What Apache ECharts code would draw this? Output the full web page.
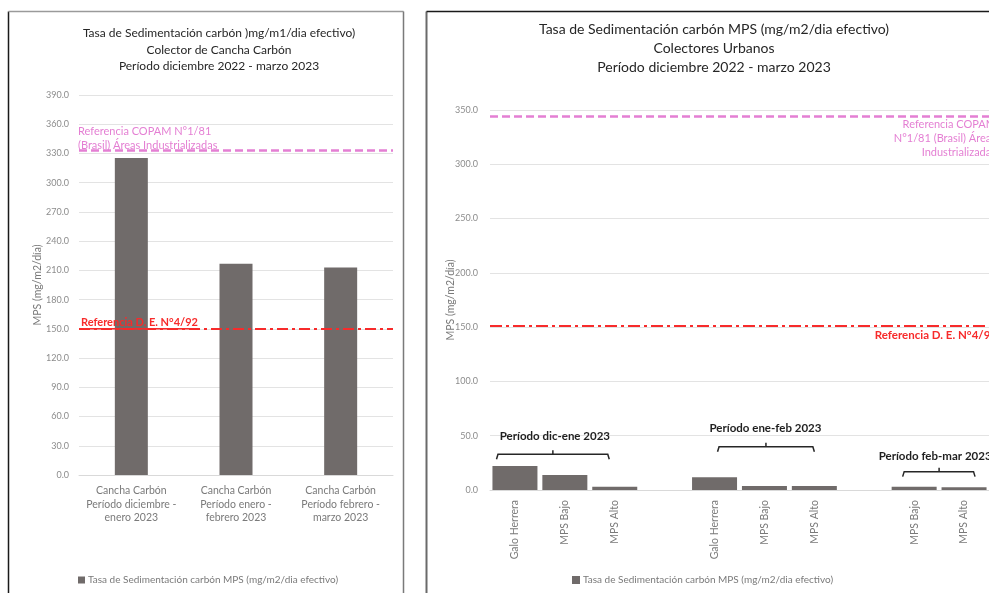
<!DOCTYPE html>
<html>
<head>
<meta charset="utf-8">
<script src="https://cdn.jsdelivr.net/npm/echarts@6/dist/echarts.min.js"></script>
<style>
  html, body { margin: 0; padding: 0; background: #fff; overflow: hidden; }
  #chart { width: 989px; height: 593px; }
</style>
</head>
<body>
<div id="chart"></div>
<script>
// ---- Cancha Carbón collector ----
const carbonCategories = [
  'Cancha Carbón\nPeríodo diciembre -\nenero 2023',
  'Cancha Carbón\nPeríodo enero -\nfebrero 2023',
  'Cancha Carbón\nPeríodo febrero -\nmarzo 2023'
];
const carbonValues = [325.3, 216.8, 212.9];
const carbonAxisMin = 0, carbonAxisMax = 390, carbonAxisStep = 30;

// ---- Urban collectors (blank slots separate the periods) ----
const urbanCategories = [
  'Galo Herrera', 'MPS Bajo', 'MPS Alto', '',
  'Galo Herrera', 'MPS Bajo', 'MPS Alto', '',
  'MPS Bajo', 'MPS Alto'
];
const urbanValues = [22.1, 13.8, 3.0, null, 11.7, 3.7, 3.7, null, 3.0, 2.5];
const urbanAxisMin = 0, urbanAxisMax = 350, urbanAxisStep = 50;

// ---- Reference limits ----
const copamLimitCarbon = 333.5;
const copamLimitUrban = 344;
const deLimitCarbon = 150;
const deLimitUrban = 151.5;

// ---- Period groups on the urban chart ----
const periodLabels = ['Período dic-ene 2023', 'Período ene-feb 2023', 'Período feb-mar 2023'];

const seriesName = 'Tasa de Sedimentación carbón MPS (mg/m2/dia efectivo)';

// Bracket placement (fractional category index, value on y axis)
const bracketLayout = [
  { from: -0.37, to: 1.89, mid: 0.76, at: 32.9, labelX: 0.8,  labelAt: 49.7 },
  { from: 4.06,  to: 6.0,  mid: 5.03, at: 39.9, labelX: 5.02, labelAt: 57.1 },
  { from: 7.77,  to: 9.22, mid: 8.5,  at: 16.9, labelX: 8.42, labelAt: 30.7 }
];

const FONT = 'Lato, "Liberation Sans", sans-serif';
const BAR = '#706b6a';
const PINK = '#e47fd3';
const RED = '#f72b2b';
const TICK = '#8c8c8c';
const AXISNAME = '#7a7a7a';

const chart = echarts.init(document.getElementById('chart'), null, { renderer: 'canvas' });

const refLines = (copam, de, dePattern) => ({
  symbol: ['none', 'none'],
  silent: true,
  label: { show: false },
  data: [
    { yAxis: copam, lineStyle: { color: PINK, width: 2.5, type: [8, 4] } },
    { yAxis: de, lineStyle: { color: RED, width: 2, type: dePattern } }
  ]
});

chart.setOption({
  animation: false,
  textStyle: { fontFamily: FONT },
  title: [
    {
      text: 'Tasa de Sedimentación carbón )mg/m1/dia efectivo)\nColector de Cancha Carbón\nPeríodo diciembre 2022 - marzo 2023',
      left: 219, top: 25, textAlign: 'center', padding: 0,
      textStyle: { fontFamily: FONT, fontSize: 12, fontWeight: 'normal', color: '#262626', lineHeight: 16.5 }
    },
    {
      text: 'Tasa de Sedimentación carbón MPS (mg/m2/dia efectivo)\nColectores Urbanos\nPeríodo diciembre 2022 - marzo 2023',
      left: 714, top: 20, textAlign: 'center', padding: 0,
      textStyle: { fontFamily: FONT, fontSize: 14, fontWeight: 'normal', color: '#262626', lineHeight: 19 }
    }
  ],
  legend: [
    {
      data: [seriesName], left: 78, top: 575, padding: 0, icon: 'rect', itemWidth: 7, itemHeight: 7, itemGap: 4,
      textStyle: { fontFamily: FONT, fontSize: 10, color: AXISNAME, padding: [0, 0, 0, -2] }
    },
    {
      data: [seriesName], left: 572, top: 575, padding: 0, icon: 'rect', itemWidth: 8, itemHeight: 8, itemGap: 4,
      textStyle: { fontFamily: FONT, fontSize: 10, color: AXISNAME, padding: [0, 0, 0, -2] }
    }
  ],
  grid: [
    { left: 79, top: 95, width: 314, height: 380 },
    { left: 490, top: 110, width: 500, height: 380 }
  ],
  xAxis: [
    {
      gridIndex: 0, type: 'category', data: carbonCategories,
      axisLine: { lineStyle: { color: '#d9d9d9' } }, axisTick: { show: false },
      axisLabel: { color: AXISNAME, fontSize: 10.5, lineHeight: 13.5, margin: 9, interval: 0 }
    },
    {
      gridIndex: 1, type: 'category', data: urbanCategories,
      axisLine: { lineStyle: { color: '#d9d9d9' } }, axisTick: { show: false },
      axisLabel: { color: AXISNAME, fontSize: 10.5, rotate: 90, margin: 10, interval: 0 }
    }
  ],
  yAxis: [
    {
      gridIndex: 0, type: 'value', min: carbonAxisMin, max: carbonAxisMax, interval: carbonAxisStep,
      name: 'MPS (mg/m2/día)', nameLocation: 'middle', nameGap: 36, nameMoveOverlap: false,
      nameTextStyle: { color: AXISNAME, fontSize: 10.5, fontFamily: FONT },
      axisLine: { show: false }, axisTick: { show: false },
      axisLabel: { color: TICK, fontSize: 9, margin: 10, formatter: v => v.toFixed(1) },
      splitLine: { lineStyle: { color: '#e3e3e3' } }
    },
    {
      gridIndex: 1, type: 'value', min: urbanAxisMin, max: urbanAxisMax, interval: urbanAxisStep,
      name: 'MPS (mg/m2/día)', nameLocation: 'middle', nameGap: 34, nameMoveOverlap: false,
      nameTextStyle: { color: AXISNAME, fontSize: 10.5, fontFamily: FONT },
      axisLine: { show: false }, axisTick: { show: false },
      axisLabel: { color: TICK, fontSize: 9, margin: 12, formatter: v => v.toFixed(1) },
      splitLine: { lineStyle: { color: '#e3e3e3' } }
    }
  ],
  series: [
    {
      name: seriesName, type: 'bar', xAxisIndex: 0, yAxisIndex: 0,
      data: carbonValues, barWidth: 33, itemStyle: { color: BAR },
      markLine: refLines(copamLimitCarbon, deLimitCarbon, [11, 4, 3, 4])
    },
    {
      name: seriesName, type: 'bar', xAxisIndex: 1, yAxisIndex: 1,
      data: urbanValues, barWidth: 45, itemStyle: { color: BAR },
      markLine: refLines(copamLimitUrban, deLimitUrban, [12, 4, 3, 4])
    }
  ]
});

// ---- Annotations placed through the axes ----
function textWidth(font, text) {
  const ctx = document.createElement('canvas').getContext('2d');
  ctx.font = font;
  return ctx.measureText(text).width;
}

const yC = v => chart.convertToPixel({ yAxisIndex: 0 }, v);
const yU = v => chart.convertToPixel({ yAxisIndex: 1 }, v);
const x0 = chart.convertToPixel({ xAxisIndex: 1 }, 0);
const x1 = chart.convertToPixel({ xAxisIndex: 1 }, 1);
const xU = t => x0 + (x1 - x0) * t;
const leftEdge = chart.convertToPixel({ xAxisIndex: 0 }, 0) - (chart.convertToPixel({ xAxisIndex: 0 }, 1) - chart.convertToPixel({ xAxisIndex: 0 }, 0)) / 2;

const graphics = [];

// panel frames
graphics.push(
  { type: 'line', shape: { x1: 8.5, y1: 11.5, x2: 8.5, y2: 600 }, style: { stroke: '#1a1a1a', lineWidth: 1.5 } },
  { type: 'line', shape: { x1: 8.5, y1: 11.5, x2: 403.5, y2: 11.5 }, style: { stroke: '#9a9a9a', lineWidth: 1.5 } },
  { type: 'line', shape: { x1: 403.5, y1: 11.5, x2: 403.5, y2: 600 }, style: { stroke: '#7a7a7a', lineWidth: 1.5 } },
  { type: 'line', shape: { x1: 426.5, y1: 11.5, x2: 426.5, y2: 600 }, style: { stroke: '#6a6a6a', lineWidth: 2 } },
  { type: 'line', shape: { x1: 426.5, y1: 11.5, x2: 1000, y2: 11.5 }, style: { stroke: '#1a1a1a', lineWidth: 1.5 } }
);

// reference labels, Cancha Carbón chart
const deFontL = 'bold 11px ' + FONT;
const deTextL = 'Referencia D. E. N°4/92';
graphics.push(
  {
    type: 'text', x: leftEdge - 1, y: yC(copamLimitCarbon) + 2,
    style: { text: 'Referencia COPAM N°1/81\n(Brasil) Áreas Industrializadas', font: '11px ' + FONT, fill: PINK, lineHeight: 14, textAlign: 'left', textVerticalAlign: 'bottom' }
  },
  {
    type: 'text', x: leftEdge + 2, y: yC(deLimitCarbon) + 1,
    style: { text: deTextL, font: deFontL, fill: RED, lineHeight: 14, textAlign: 'left', textVerticalAlign: 'bottom' }
  },
  {
    type: 'line',
    shape: { x1: leftEdge + 2, y1: yC(deLimitCarbon), x2: leftEdge + 2 + textWidth(deFontL, deTextL), y2: yC(deLimitCarbon) },
    style: { stroke: RED, lineWidth: 1.5 }
  }
);

// reference labels, urban chart (right-aligned, running past the edge)
graphics.push(
  {
    type: 'text', x: 996, y: yU(copamLimitUrban) + 1,
    style: { text: 'Referencia COPAM\nN°1/81 (Brasil) Áreas\nIndustrializadas', font: '11px ' + FONT, fill: PINK, lineHeight: 14, textAlign: 'right', textVerticalAlign: 'top' }
  },
  {
    type: 'text', x: 997, y: yU(deLimitUrban) + 3,
    style: { text: 'Referencia D. E. N°4/92', font: 'bold 11.5px ' + FONT, fill: RED, lineHeight: 14, textAlign: 'right', textVerticalAlign: 'top' }
  }
);

// period brackets
bracketLayout.forEach((b, i) => {
  const y = yU(b.at);
  const a = xU(b.from), c = xU(b.to), m = xU(b.mid);
  graphics.push(
    { type: 'polyline', shape: { points: [[a, y + 5], [a + 1.5, y], [c - 1.5, y], [c, y + 5]] }, style: { stroke: '#262626', lineWidth: 1.5, fill: null } },
    { type: 'line', shape: { x1: m, y1: y, x2: m, y2: y - 4 }, style: { stroke: '#262626', lineWidth: 1.5 } },
    {
      type: 'text', x: xU(b.labelX), y: yU(b.labelAt),
      style: { text: periodLabels[i], font: 'bold 11.5px ' + FONT, fill: '#1f1f1f', textAlign: 'center', textVerticalAlign: 'middle' }
    }
  );
});

graphics.forEach(g => { g.z = 100; g.silent = true; });
chart.setOption({ graphic: graphics });
</script>
</body>
</html>
